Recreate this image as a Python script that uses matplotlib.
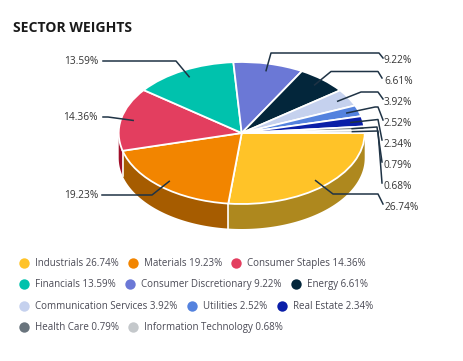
import numpy as np
import matplotlib
matplotlib.use('Agg')
import matplotlib.pyplot as plt

plt.rcParams['font.family'] = ['Open Sans', 'DejaVu Sans']

W, H = 464, 361

sectors = ['Industrials', 'Materials', 'Consumer Staples', 'Financials',
           'Consumer Discretionary', 'Energy', 'Communication Services',
           'Utilities', 'Real Estate', 'Health Care', 'Information Technology']
weights = [26.74, 19.23, 14.36, 13.59, 9.22, 6.61, 3.92, 2.52, 2.34, 0.79, 0.68]
colors = ['#FFC328', '#F28500', '#E33E5F', '#00C2AD', '#6B78D6', '#03263B',
          '#C5D1EE', '#5482DE', '#0A1EA8', '#69747D', '#C4C8CB']
wall_colors = ['#AE881E', '#A65C00', '#A00F2A']

# pie ellipse on the canvas, in pixels
CX, CY, RX, RY, DEPTH = 241.7, 133, 123, 71, 25

# leader elbows (pixels) and where each label sits
elbows = [[(333, 194), (378, 194), (383, 204)],
          [(152, 195), (102, 195)],
          [(108, 117), (103, 117)],
          [(176, 61), (103, 61)],
          [(271, 53), (379, 53), (383, 58)],
          [(331, 71.5), (378, 71.5), (382, 78)],
          [(361, 92), (378, 92), (383, 99)],
          [(375, 107), (378, 107), (383, 120)],
          [(378, 119.5), (382, 140)],
          [(377, 127), (382, 162)],
          [(378, 131), (382, 183)]]
label_pos = [(385, 207), (98, 195), (98, 117), (98, 61), (384, 60), (384, 81.5),
             (384, 102), (384, 123), (384, 144), (384, 165), (384, 186)]
label_ha = ['left', 'right', 'right', 'right', 'left', 'left',
            'left', 'left', 'left', 'left', 'left']

legend_rows = [[0, 1, 2], [3, 4, 5], [6, 7, 8], [9, 10]]
legend_y = [263, 284, 306, 327]
legend_x = [[24, 133, 236], [24, 130, 296], [24, 192, 282], [24, 133]]

fig = plt.figure(figsize=(W / 100, H / 100), dpi=100)

# overlay in pixel coordinates for text and leaders
ax = fig.add_axes([0, 0, 1, 1], zorder=2)
ax.set_xlim(0, W)
ax.set_ylim(H, 0)
ax.axis('off')
ax.patch.set_alpha(0)

# pie axes sized to the ellipse
pie_ax = fig.add_axes([(CX - RX) / W, 1 - (CY + RY) / H, 2 * RX / W, 2 * RY / H], zorder=1)
pie_ax.pie(weights, colors=colors, startangle=0, counterclock=False, radius=1,
           wedgeprops={'edgecolor': 'white', 'linewidth': 1.3})
pie_ax.set_aspect('auto')
pie_ax.set_xlim(-1, 1)
pie_ax.set_ylim(-1, 1)

# side wall, only the part that faces the viewer
depth = DEPTH / RY
edges = np.concatenate([[0], np.cumsum(weights)]) * 3.6
for i, col in enumerate(wall_colors):
    a0, a1 = edges[i], min(edges[i + 1], 180)
    th = np.radians(np.linspace(a0, a1, 60))
    x = np.cos(th)
    y = -np.sin(th)
    xs = np.concatenate([x, x[::-1]])
    ys = np.concatenate([y, y[::-1] - depth])
    pie_ax.fill(xs, ys, color=col, lw=0, clip_on=False, zorder=0)
    if i < len(wall_colors) - 1:
        pie_ax.plot([x[-1], x[-1]], [y[-1], y[-1] - depth], color='white', lw=1.2,
                    clip_on=False, zorder=0.5)

# leaders start inside each slice
mids = (edges[:-1] + edges[1:]) / 2
for i, m in enumerate(mids):
    sx = CX + RX * 0.9 * np.cos(np.radians(m))
    sy = CY + RY * 0.9 * np.sin(np.radians(m))
    pts = [(sx, sy)] + elbows[i]
    ax.plot([p[0] for p in pts], [p[1] for p in pts], color='#1F3345', lw=1.1,
            solid_joinstyle='round')
    ax.text(label_pos[i][0], label_pos[i][1] + 3, f'{weights[i]:.2f}%', ha=label_ha[i], va='baseline',
            fontsize=7.3, color='#333333')

ax.text(13, 32, 'SECTOR WEIGHTS', fontsize=10.1, fontweight='bold', color='#1A1A1A', va='baseline')

for row, y, xs in zip(legend_rows, legend_y, legend_x):
    for i, x in zip(row, xs):
        ax.scatter([x], [y], s=56, color=colors[i], lw=0)
        ax.text(x + 11, y + 3, f'{sectors[i]} {weights[i]:.2f}%', fontsize=7.0, color='#4A4A55', va='baseline')

fig.savefig('out.png', dpi=100)
